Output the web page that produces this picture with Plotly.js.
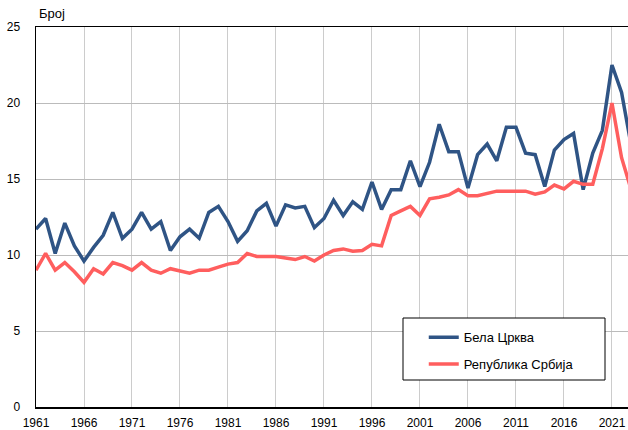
<!DOCTYPE html>
<html>
<head>
<meta charset="utf-8">
<script src="https://cdn.plot.ly/plotly-3.0.1.min.js"></script>
<style>html,body{margin:0;padding:0;background:#fff;}#chart{width:628px;height:430px;}</style>
</head>
<body>
<div id="chart"></div>
<script>
const years = [];
for (let y = 1961; y <= 2023; y++) years.push(y);

const belaCrkva = [11.7, 12.4, 10.1, 12.1, 10.6, 9.6, 10.5, 11.3, 12.8, 11.1,
  11.7, 12.8, 11.7, 12.2, 10.3, 11.2, 11.7, 11.1, 12.8, 13.2,
  12.2, 10.9, 11.6, 12.9, 13.4, 11.9, 13.3, 13.1, 13.2, 11.8,
  12.4, 13.6, 12.6, 13.5, 13.0, 14.8, 13.0, 14.3, 14.3, 16.2,
  14.5, 16.1, 18.6, 16.8, 16.8, 14.4, 16.6, 17.3, 16.2, 18.4,
  18.4, 16.7, 16.6, 14.5, 16.9, 17.6, 18.0, 14.3, 16.7, 18.2,
  22.5, 20.7, 17.2];

const srbija = [9.0, 10.1, 9.0, 9.5, 8.9, 8.2, 9.1, 8.75, 9.5, 9.3,
  9.0, 9.5, 9.0, 8.8, 9.1, 8.95, 8.8, 9.0, 9.0, 9.2,
  9.4, 9.5, 10.1, 9.9, 9.9, 9.9, 9.8, 9.7, 9.9, 9.6,
  10.0, 10.3, 10.4, 10.25, 10.3, 10.7, 10.6, 12.6, 12.9, 13.2,
  12.6, 13.7, 13.8, 13.95, 14.3, 13.9, 13.9, 14.05, 14.2, 14.2,
  14.2, 14.2, 14.0, 14.15, 14.6, 14.35, 14.85, 14.65, 14.65, 17.0,
  20.0, 16.4, 14.3];

const seriesNames = ['Бела Црква', 'Република Србија'];
const yTickVals = [0, 5, 10, 15, 20, 25];
const yAxisLabel = 'Број';

const font = 'Liberation Sans, Arial, sans-serif';

const traces = [
  {x: years, y: belaCrkva, name: seriesNames[0], type: 'scatter', mode: 'lines',
   line: {color: '#2f5485', width: 3.5}, legendgroup: 'a'},
  {x: years, y: srbija, name: seriesNames[1], type: 'scatter', mode: 'lines',
   line: {color: '#ff5e5e', width: 3.5}, legendgroup: 'b'}
];

const layout = {
  width: 628, height: 430,
  margin: {l: 36, r: 0, t: 27, b: 23, pad: 0},
  paper_bgcolor: '#fff', plot_bgcolor: '#fff',
  font: {family: font, size: 12, color: '#000'},
  showlegend: true,
  xaxis: {
    range: [1961, 2022.67], tick0: 1961, dtick: 5, tickmode: 'linear',
    showgrid: true, gridcolor: '#cccccc', gridwidth: 1,
    showline: true, linecolor: '#000', linewidth: 1.5, mirror: true,
    zeroline: false, ticks: '', ticklabelstandoff: 4,
    tickfont: {family: font, size: 12, color: '#000'}
  },
  yaxis: {
    range: [0, 25], tickvals: yTickVals,
    showgrid: true, gridcolor: '#bbbbbb', gridwidth: 1,
    showline: true, linecolor: '#000', linewidth: 1.5,
    zeroline: false, ticks: '', ticklabelstandoff: 12,
    tickfont: {family: font, size: 12, color: '#000'}
  },
  legend: {
    x: 0.655, y: 0.223, xanchor: 'left', yanchor: 'top',
    bgcolor: 'rgba(0,0,0,0)', borderwidth: 0,
    font: {family: font, size: 13, color: '#000'},
    traceorder: 'grouped', tracegroupgap: 7
  },
  shapes: [
    {type: 'rect', xref: 'paper', yref: 'paper',
     x0: (403 - 36) / 592, x1: (605 - 36) / 592,
     y0: (407 - 380) / 380, y1: (407 - 318) / 380,
     line: {color: '#000', width: 1}, fillcolor: '#fff', layer: 'above'}
  ],
  annotations: [
    {text: yAxisLabel, xref: 'paper', yref: 'paper', x: 0, y: 1,
     xanchor: 'left', yanchor: 'middle', yshift: 14, xshift: 1, showarrow: false,
     font: {family: font, size: 13, color: '#000'}}
  ]
};

Plotly.newPlot('chart', traces, layout, {displayModeBar: false, staticPlot: true});
</script>
</body>
</html>
